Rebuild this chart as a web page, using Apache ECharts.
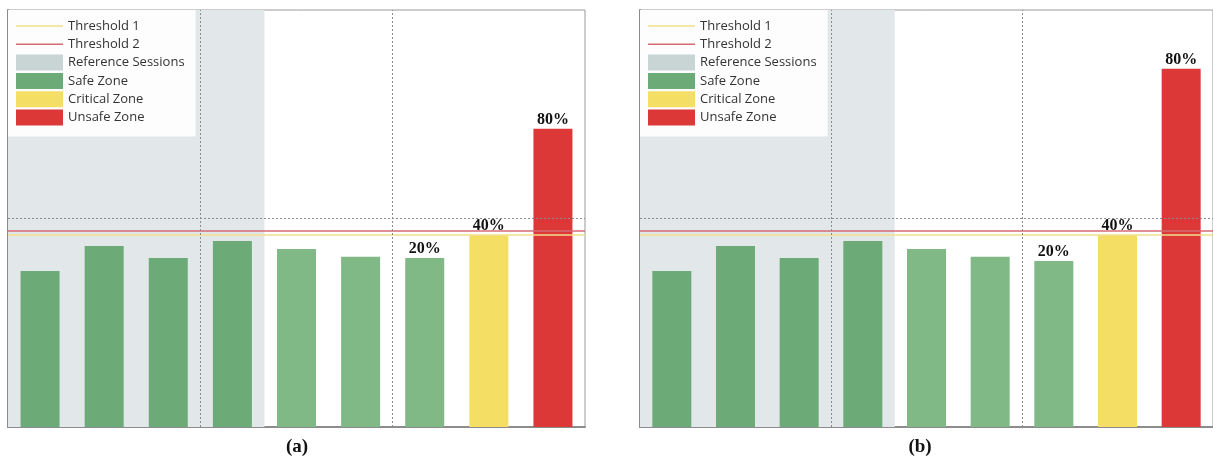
<!DOCTYPE html>
<html>
<head>
<meta charset="utf-8">
<script src="https://cdn.jsdelivr.net/npm/echarts@6/dist/echarts.min.js"></script>
<style>
html,body{margin:0;padding:0;background:#fff;}
#c{width:1213px;height:461px;}
</style>
</head>
<body>
<div id="c"></div>
<script>
// ---- data ----
const categories = ['1','2','3','4','5','6','7','8','9'];
const safeA     = [37.4, 43.4, 40.5, 44.6, 42.7, 40.8, 40.5, null, null];
const criticalA = [null, null, null, null, null, null, null, 46.0, null];
const unsafeA   = [null, null, null, null, null, null, null, null, 71.5];
const safeB     = [37.4, 43.4, 40.5, 44.6, 42.7, 40.8, 39.8, null, null];
const criticalB = [null, null, null, null, null, null, null, 46.0, null];
const unsafeB   = [null, null, null, null, null, null, null, null, 85.9];
const barLabels = ['', '', '', '', '', '', '20%', '40%', '80%'];
const threshold1 = 46.2;
const threshold2 = 47.1;
const limitLine = 50.1;
const refSessions = [0, 4];     // category span of reference sessions
const dividers = [3, 6];        // category boundaries with dotted lines
const captions = ['(a)', '(b)'];
const legendNames = ['Threshold 1','Threshold 2','Reference Sessions','Safe Zone','Critical Zone','Unsafe Zone'];

// ---- styles ----
const C = {
  shade: '#e2e7ea', refSwatch: '#c9d4d5',
  safeDark: '#6caa78', safeLight: '#80b886',
  crit: '#f4de64', unsafe: '#dc3838',
  t1: '#f2df8a', t2: '#d46a72', guide: '#8a8a8a'
};
const grids = [{left: 8, top: 10, width: 577, height: 417}, {left: 640, top: 10, width: 577, height: 417}];
const captionX = [297, 920];
const lineIcon = 'path://M0,0 L0.01,0 M0,7.3 L47,7.3 L47,8.7 L0,8.7 Z M47,16 L46.99,16';

const xAxis = [], yAxis = [], series = [], legends = [], graphics = [];
grids.forEach((g, p) => {
  xAxis.push({type:'category', gridIndex:p, data:categories, axisLabel:{show:false}, axisTick:{show:false},
    axisLine:{show:true, lineStyle:{color:'#8c8c8c', width:2}}, splitLine:{show:false}});
  xAxis.push({type:'value', gridIndex:p, min:0, max:categories.length, show:false});
  yAxis.push({type:'value', gridIndex:p, min:0, max:100, axisLabel:{show:false}, axisTick:{show:false},
    axisLine:{show:true, lineStyle:{color:'#8c8c8c', width:2}}, splitLine:{show:false}});
  const safe = p === 0 ? safeA : safeB;
  const crit = p === 0 ? criticalA : criticalB;
  const unsafe = p === 0 ? unsafeA : unsafeB;
  const cx = p * 2, vx = p * 2 + 1;
  const lbl = {show:true, position:'top', distance:1, color:'#111',
    fontFamily:'Liberation Serif, Times New Roman, serif', fontWeight:'bold', fontSize:16,
    formatter: q => barLabels[q.dataIndex]};
  series.push({name:'Reference Sessions', type:'line', xAxisIndex:vx, yAxisIndex:p, data:[], z:1,
    itemStyle:{color:C.refSwatch},
    markArea:{silent:true, itemStyle:{color:C.shade}, data:[[{xAxis:refSessions[0]},{xAxis:refSessions[1]}]]}});
  series.push({name:'Safe Zone', type:'bar', xAxisIndex:cx, yAxisIndex:p, stack:'s'+p, barWidth:39, z:3,
    itemStyle:{color:C.safeDark}, label:lbl,
    data: safe.map((v, i) => v == null ? null : {value:v, itemStyle:{color: i < refSessions[1] ? C.safeDark : C.safeLight}})});
  series.push({name:'Critical Zone', type:'bar', xAxisIndex:cx, yAxisIndex:p, stack:'s'+p, barWidth:39, z:3,
    itemStyle:{color:C.crit}, label:lbl, data:crit});
  series.push({name:'Unsafe Zone', type:'bar', xAxisIndex:cx, yAxisIndex:p, stack:'s'+p, barWidth:39, z:3,
    itemStyle:{color:C.unsafe}, label:lbl, data:unsafe});
  series.push({name:'Threshold 1', type:'line', xAxisIndex:vx, yAxisIndex:p, data:[], symbol:'none', z:6,
    lineStyle:{color:C.t1, width:1.5}, itemStyle:{color:C.t1},
    markLine:{silent:true, symbol:'none', label:{show:false}, lineStyle:{color:C.t1, width:1.5, type:'solid'},
      data:[{yAxis:threshold1}]}});
  series.push({name:'Threshold 2', type:'line', xAxisIndex:vx, yAxisIndex:p, data:[], symbol:'none', z:6,
    lineStyle:{color:C.t2, width:1.5}, itemStyle:{color:C.t2},
    markLine:{silent:true, symbol:'none', label:{show:false}, lineStyle:{color:C.t2, width:1.5, type:'solid'},
      data:[{yAxis:threshold2}]}});
  series.push({name:'guides', type:'line', xAxisIndex:vx, yAxisIndex:p, data:[], symbol:'none', z:5,
    markLine:{silent:true, symbol:'none', label:{show:false}, lineStyle:{color:C.guide, width:1, type:[2,2]},
      data: dividers.map(d => ({xAxis:d})).concat([{yAxis:limitLine}])}});
  legends.push({orient:'vertical', left:g.left, top:g.top, padding:[8,11,11,8], itemGap:2.3,
    itemWidth:47, itemHeight:16, backgroundColor:'rgba(255,255,255,0.92)',
    textStyle:{fontFamily:'Open Sans, Noto Sans, sans-serif', fontSize:13, color:'#333'},
    data: legendNames.map(n => {
      if (n === 'Threshold 1') return {name:n, icon:lineIcon, itemStyle:{color:C.t1, borderWidth:0}};
      if (n === 'Threshold 2') return {name:n, icon:lineIcon, itemStyle:{color:C.t2, borderWidth:0}};
      return {name:n, icon:'rect'};
    })});
  graphics.push({type:'text', x: captionX[p], y: 438,
    style:{text:captions[p], align:'center', font:'bold 19px "Liberation Serif", "Times New Roman", serif', fill:'#111'}});
});

const chart = echarts.init(document.getElementById('c'), null, {renderer:'canvas'});
chart.setOption({
  animation:false,
  grid: grids.map(g => Object.assign({show:true, borderColor:'#9a9a9a', borderWidth:1, backgroundColor:'transparent'}, g)),
  xAxis, yAxis, series, legend: legends, graphic: graphics
});
</script>
</body>
</html>
